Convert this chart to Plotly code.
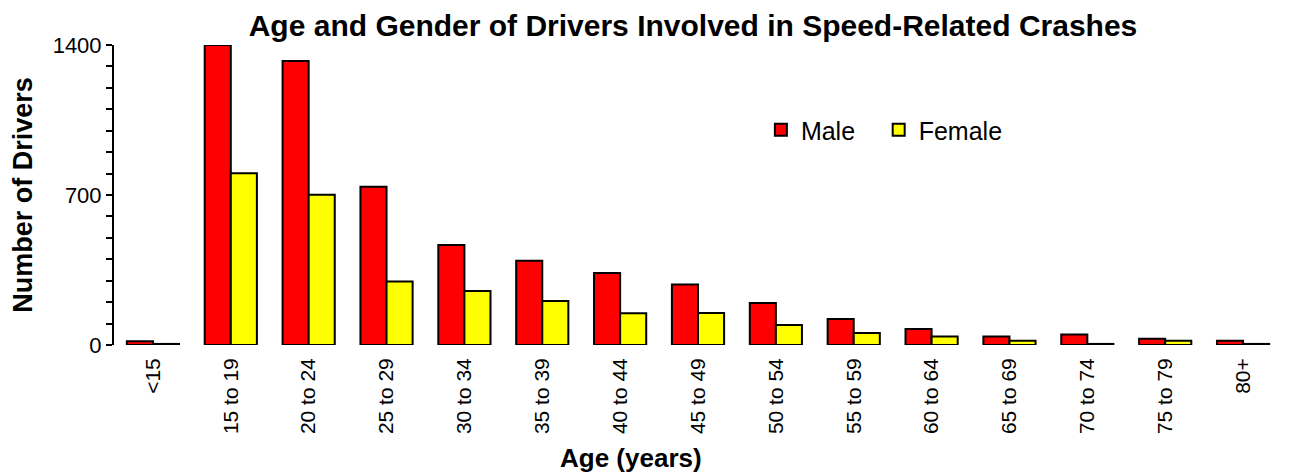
import plotly.graph_objects as go

age_groups = ["<15", "15 to 19", "20 to 24", "25 to 29", "30 to 34", "35 to 39", "40 to 44",
              "45 to 49", "50 to 54", "55 to 59", "60 to 64", "65 to 69", "70 to 74", "75 to 79", "80+"]
male = [17, 1400, 1325, 739, 467, 393, 336, 282, 196, 121, 75, 40, 49, 29, 20]
female = [5, 801, 701, 296, 252, 205, 148, 149, 93, 56, 40, 20, 5, 20, 5]

FONT = "Liberation Sans, Arial, sans-serif"

# page body has an 8px margin; figure is sized to fit the 1290x472 window
W, H = 1282, 464
L, R, T, B = 104, 8, 37, 127
PW, PH = W - L - R, H - T - B

fig = go.Figure()
fig.add_trace(go.Bar(x=age_groups, y=male, name="Male", legend="legend",
                     marker=dict(color="#FF0000", line=dict(color="black", width=2))))
fig.add_trace(go.Bar(x=age_groups, y=female, name="Female", legend="legend2",
                     marker=dict(color="#FFFF00", line=dict(color="black", width=2))))

leg_common = dict(orientation="h", xanchor="left", y=(T + PH - 122) / PH, yanchor="middle",
                  font=dict(size=25, family=FONT, color="black"), bgcolor="rgba(0,0,0,0)")

fig.update_layout(
    width=W, height=H,
    margin=dict(l=L, r=R, t=T, b=B),
    paper_bgcolor="white", plot_bgcolor="white",
    barmode="group", bargap=0.33, bargroupgap=0,
    font=dict(family=FONT, color="black"),
    title=dict(text="<b>Age and Gender of Drivers Involved in Speed-Related Crashes</b>",
               font=dict(size=30, family=FONT, color="black"),
               x=685 / W, xanchor="center", y=1 - 17 / H, yanchor="middle"),
    legend=dict(x=(752 - L) / PW, **leg_common),
    legend2=dict(x=(870 - L) / PW, **leg_common),
    showlegend=True,
)
fig.update_xaxes(
    range=[-0.5, 14.5], tickangle=-90, showline=False, showgrid=False, ticks="",
    tickfont=dict(size=21, family=FONT, color="black"), ticklabelstandoff=8,
)
fig.update_yaxes(
    range=[0, 1400], tickvals=[0, 700, 1400], showgrid=False, zeroline=False,
    showline=True, linecolor="black", linewidth=2, ticks="outside", ticklen=6, tickwidth=2,
    tickcolor="black", tickfont=dict(size=22, family=FONT, color="black"),
    minor=dict(dtick=100, ticks="outside", ticklen=6, tickwidth=2, tickcolor="black", showgrid=False),
    title=dict(text="<b>Number of Drivers</b>", font=dict(size=27, family=FONT, color="black"), standoff=18),
)
fig.add_annotation(text="<b>Age (years)</b>", xref="paper", yref="paper",
                   x=(622 - L) / PW, y=-(450 - (T + PH)) / PH, xanchor="center", yanchor="middle",
                   showarrow=False, font=dict(size=26, family=FONT, color="black"))

fig.write_html("out.html")
